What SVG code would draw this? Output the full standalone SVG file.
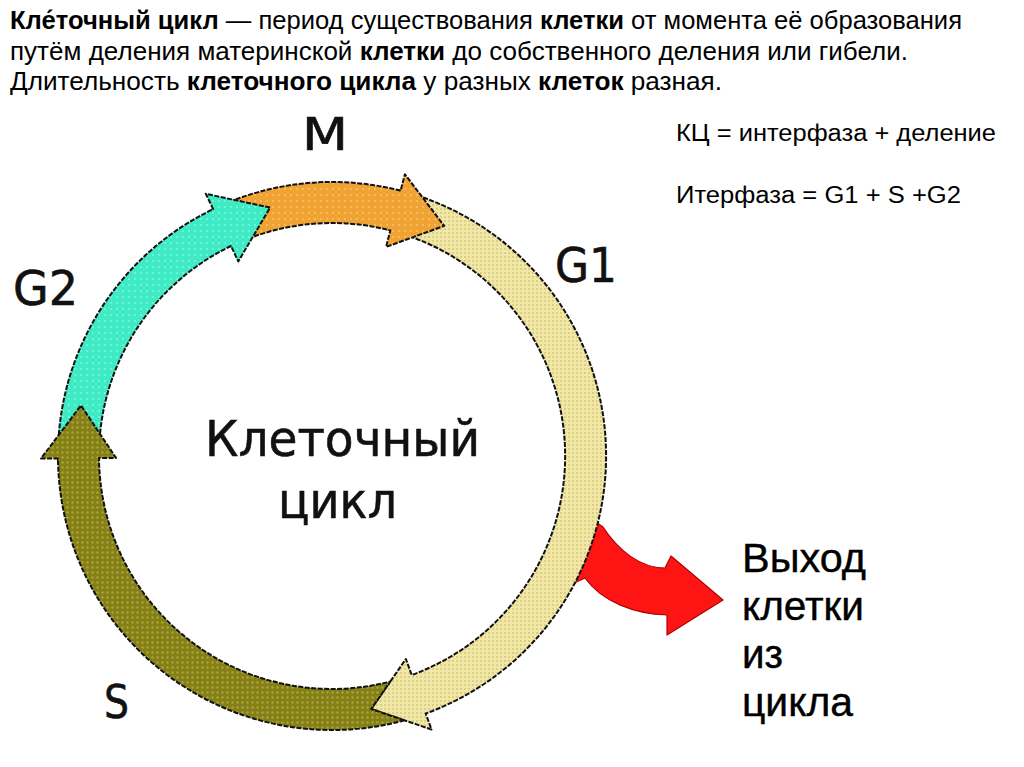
<svg xmlns="http://www.w3.org/2000/svg" width="1024" height="767" viewBox="0 0 1024 767">
<style>
.t{font-family:"Liberation Sans",Arial,sans-serif;fill:#000}
.b{font-weight:bold}
.lbl{font-family:"DejaVu Sans",Verdana,sans-serif;fill:#111;stroke:#111;stroke-width:0.6}
.ex{font-family:"Liberation Sans",Arial,sans-serif;fill:#000;font-size:40px;stroke:#000;stroke-width:0.4}
.seg{stroke:#111;stroke-width:2;stroke-dasharray:5 1.5;stroke-linejoin:round}
</style>
<defs>
<pattern id="pY" patternUnits="userSpaceOnUse" width="4" height="4"><rect width="4" height="4" fill="#F1E7A6"/><rect x="0" y="0" width="2" height="2" fill="#DCCF84"/></pattern>
<pattern id="pO" patternUnits="userSpaceOnUse" width="6" height="6"><rect width="6" height="6" fill="#F0A232"/><circle cx="3" cy="3" r="1" fill="#F6C46E"/></pattern>
<pattern id="pC" patternUnits="userSpaceOnUse" width="6" height="6"><rect width="6" height="6" fill="#3EEBC4"/><circle cx="3" cy="3" r="1" fill="#86F4DB"/></pattern>
<pattern id="pS" patternUnits="userSpaceOnUse" width="5" height="5"><rect width="5" height="5" fill="#857F18"/><circle cx="2.5" cy="2.5" r="1.2" fill="#ABA538"/></pattern>
</defs>
<rect width="1024" height="767" fill="#fff"/>

<g id="title">
<text class="t" x="10" y="29" font-size="25" textLength="952" lengthAdjust="spacingAndGlyphs"><tspan class="b">Кле́точный цикл</tspan> — период существования <tspan class="b">клетки</tspan> от момента её образования</text>
<text class="t" x="10" y="60" font-size="25" textLength="898" lengthAdjust="spacingAndGlyphs">путём деления материнской <tspan class="b">клетки</tspan> до собственного деления или гибели.</text>
<text class="t" x="10" y="90" font-size="25" textLength="712" lengthAdjust="spacingAndGlyphs">Длительность <tspan class="b">клеточного цикла</tspan> у разных <tspan class="b">клеток</tspan> разная.</text>
</g>

<g id="formulas">
<text class="t" x="676" y="141" font-size="23" textLength="320" lengthAdjust="spacingAndGlyphs">КЦ = интерфаза + деление</text>
<text class="t" x="676" y="203" font-size="23" textLength="285" lengthAdjust="spacingAndGlyphs">Итерфаза = G1 + S +G2</text>
</g>

<g id="connectors">
<path id="exit-arrow" d="M590,518 L603,527 C618,550 640,568 665,568 L671,556 L723,600 L667,635 L667,615 C635,614 602,602 585,578 L570,585 Z" fill="#FF1414" stroke="#B00000" stroke-width="1.2" stroke-linejoin="round"/>
</g>

<g id="phase-G1">
<path class="seg" fill="url(#pY)" d="M398.3,190.1 A274,274 0 0 1 425.7,713.5 L431.5,729.5 L371.2,709.0 L405.9,659.0 L411.7,675.0 A233,233 0 0 0 388.4,229.9 Z"/>
<text class="lbl" x="555" y="282" font-size="48" textLength="62" lengthAdjust="spacingAndGlyphs">G1</text>
</g>

<g id="phase-M">
<path class="seg" fill="url(#pO)" d="M211.9,209.7 A274,274 0 0 1 400.6,190.7 L404.9,174.3 L444.2,225.9 L386.1,246.9 L390.3,230.4 A233,233 0 0 0 229.9,246.6 Z"/>
<text class="lbl" x="302" y="150" font-size="44" textLength="46" lengthAdjust="spacingAndGlyphs">M</text>
</g>

<g id="phase-G2">
<path class="seg" fill="url(#pC)" d="M58.0,460.8 A274,274 0 0 1 213.2,209.1 L205.8,193.8 L270.1,207.6 L238.3,261.4 L231.0,246.0 A233,233 0 0 0 99.0,460.1 Z"/>
<text class="lbl" x="13" y="305" font-size="48" textLength="65" lengthAdjust="spacingAndGlyphs">G2</text>
</g>

<g id="phase-S">
<path class="seg" fill="url(#pS)" d="M404.4,720.3 A274,274 0 0 1 58.0,458.4 L41.0,458.5 L81.0,405.4 L116.0,457.9 L99.0,458.0 A233,233 0 0 0 390.2,681.6 L371.2,709.0 Z"/>
<text class="lbl" x="104" y="718" font-size="46" textLength="25" lengthAdjust="spacingAndGlyphs">S</text>
</g>

<g id="center-label">
<text class="lbl" x="205" y="456" font-size="50" textLength="275" lengthAdjust="spacingAndGlyphs">Клеточный</text>
<text class="lbl" x="278" y="518" font-size="50" textLength="119" lengthAdjust="spacingAndGlyphs">цикл</text>
</g>

<g id="exit-label">
<text class="ex" x="742" y="572" textLength="124" lengthAdjust="spacingAndGlyphs">Выход</text>
<text class="ex" x="742" y="620" textLength="122" lengthAdjust="spacingAndGlyphs">клетки</text>
<text class="ex" x="742" y="668" textLength="41" lengthAdjust="spacingAndGlyphs">из</text>
<text class="ex" x="742" y="716" textLength="111" lengthAdjust="spacingAndGlyphs">цикла</text>
</g>
</svg>
